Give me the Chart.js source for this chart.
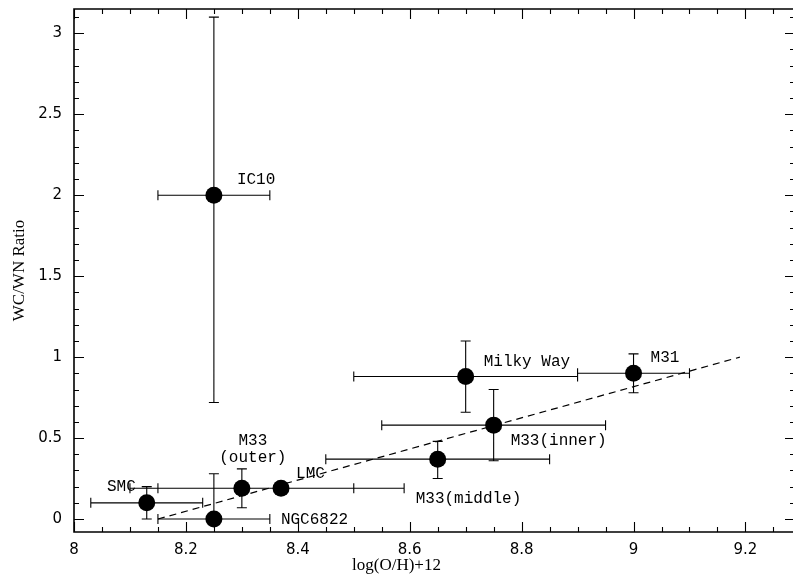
<!DOCTYPE html>
<html>
<head>
<meta charset="utf-8">
<script src="https://cdn.jsdelivr.net/npm/chart.js@4/dist/chart.umd.min.js"></script>
<style>
  html, body { margin: 0; padding: 0; background: #fff; }
</style>
</head>
<body>
<canvas id="wr-chart" width="793" height="575"></canvas>
<script>
// galaxy data
const names = ['IC10', 'Milky Way', 'M31', 'M33(inner)', 'M33(middle)', 'LMC', 'M33\n(outer)', 'SMC', 'NGC6822'];
const logOH = [8.25, 8.70, 9.00, 8.75, 8.65, 8.37, 8.30, 8.13, 8.25];
const logOHErr = [0.10, 0.20, 0.10, 0.20, 0.20, 0.22, 0.20, 0.10, 0.10];
const ratio = [2.00, 0.88, 0.90, 0.58, 0.37, 0.19, 0.19, 0.10, 0.00];
const ratioLo = [0.72, 0.66, 0.78, 0.36, 0.25, 0.16, 0.07, 0.00, 0.00];
const ratioHi = [3.10, 1.10, 1.02, 0.80, 0.48, 0.22, 0.31, 0.20, 0.28];

// dashed fit line end points
const fitX = [8.15, 9.19];
const fitY = [0.00, 1.00];

// axis ticks
const xMajor = [8, 8.2, 8.4, 8.6, 8.8, 9, 9.2];
const yMajor = [0, 0.5, 1, 1.5, 2, 2.5, 3];
const xMinorStep = 0.05;
const yMinorStep = 0.1;
const xTitle = 'log(O/H)+12';
const yTitle = 'WC/WN Ratio';

// where each name sits, in pixels from its point
const labelPlace = {
  'IC10':        {dx: 23, dy: -15, align: 'left'},
  'Milky Way':   {dx: 18, dy: -15, align: 'left'},
  'M31':         {dx: 17, dy: -16, align: 'left'},
  'M33(inner)':  {dx: 17, dy: 16, align: 'left'},
  'M33(middle)': {dx: -22, dy: 40, align: 'left'},
  'LMC':         {dx: 15, dy: -15, align: 'left'},
  'M33\n(outer)':{dx: 11, dy: -48, align: 'center'},
  'SMC':         {dx: -11, dy: -16, align: 'right'},
  'NGC6822':     {dx: 67, dy: 1, align: 'left'}
};

const labelFont = '16px "Liberation Mono", monospace';
const tickFont = {family: 'DejaVu Sans', size: 15};
const titleFont = {family: 'Liberation Serif', size: 17};

// error bars
const errorBars = {
  id: 'errorBars',
  beforeDatasetsDraw(chart) {
    const ctx = chart.ctx;
    const xs = chart.scales.x, ys = chart.scales.y;
    const cap = 5;
    ctx.save();
    ctx.strokeStyle = '#000';
    ctx.lineWidth = 1.1;
    ctx.beginPath();
    for (let i = 0; i < logOH.length; i++) {
      const px = xs.getPixelForValue(logOH[i]);
      const py = ys.getPixelForValue(ratio[i]);
      const x1 = xs.getPixelForValue(logOH[i] - logOHErr[i]);
      const x2 = xs.getPixelForValue(logOH[i] + logOHErr[i]);
      ctx.moveTo(x1, py); ctx.lineTo(x2, py);
      ctx.moveTo(x1, py - cap); ctx.lineTo(x1, py + cap);
      ctx.moveTo(x2, py - cap); ctx.lineTo(x2, py + cap);
      const y1 = ys.getPixelForValue(ratioLo[i]);
      const y2 = ys.getPixelForValue(ratioHi[i]);
      ctx.moveTo(px, y1); ctx.lineTo(px, y2);
      if (ratioLo[i] < ratio[i]) { ctx.moveTo(px - cap, y1); ctx.lineTo(px + cap, y1); }
      if (ratioHi[i] > ratio[i]) { ctx.moveTo(px - cap, y2); ctx.lineTo(px + cap, y2); }
    }
    ctx.stroke();
    ctx.restore();
  }
};

// galaxy names
const pointLabels = {
  id: 'pointLabels',
  afterDatasetsDraw(chart) {
    const ctx = chart.ctx;
    const xs = chart.scales.x, ys = chart.scales.y;
    ctx.save();
    ctx.font = labelFont;
    ctx.fillStyle = '#000';
    ctx.textBaseline = 'middle';
    names.forEach((n, i) => {
      const p = labelPlace[n];
      const px = xs.getPixelForValue(logOH[i]) + p.dx;
      const py = ys.getPixelForValue(ratio[i]) + p.dy;
      ctx.textAlign = p.align;
      n.split('\n').forEach((line, k) => ctx.fillText(line, px, py + k * 17));
    });
    ctx.restore();
  }
};

// box with inward ticks, x title centred on the page
const frame = {
  id: 'frame',
  afterDraw(chart) {
    const ctx = chart.ctx;
    const a = chart.chartArea;
    const xs = chart.scales.x, ys = chart.scales.y;
    ctx.save();
    ctx.strokeStyle = '#000';
    ctx.lineWidth = 1.6;
    ctx.beginPath();
    ctx.moveTo(a.right + 2, a.top); ctx.lineTo(a.left, a.top);
    ctx.lineTo(a.left, a.bottom); ctx.lineTo(a.right + 2, a.bottom);
    ctx.stroke();
    ctx.lineWidth = 1.1;
    ctx.beginPath();
    for (let v = xs.min; v <= xs.max + 1e-9; v += xMinorStep) {
      const isMajor = xMajor.some(m => Math.abs(m - v) < 1e-6);
      const len = isMajor ? 10 : 5;
      const px = Math.round(xs.getPixelForValue(v)) + 0.5;
      ctx.moveTo(px, a.bottom); ctx.lineTo(px, a.bottom - len);
      ctx.moveTo(px, a.top); ctx.lineTo(px, a.top + len);
    }
    for (let v = 0; v <= ys.max + 1e-9; v += yMinorStep) {
      const isMajor = yMajor.some(m => Math.abs(m - v) < 1e-6);
      const len = isMajor ? 10 : 5;
      const py = Math.round(ys.getPixelForValue(v)) + 0.5;
      ctx.moveTo(a.left, py); ctx.lineTo(a.left + len, py);
      ctx.moveTo(a.right + 2, py); ctx.lineTo(a.right + 2 - len, py);
    }
    ctx.stroke();
    ctx.font = titleFont.size + 'px "' + titleFont.family + '"';
    ctx.fillStyle = '#000';
    ctx.textAlign = 'center';
    ctx.textBaseline = 'middle';
    ctx.fillText(xTitle, chart.width / 2, chart.height - 9);
    ctx.restore();
  }
};

const ctx = document.getElementById('wr-chart');

let wrChart = new Chart(ctx, {
  type: 'scatter',
  data: {
    datasets: [{
      data: logOH.map((x, i) => ({x: x, y: ratio[i]})),
      backgroundColor: '#000',
      borderWidth: 0,
      pointRadius: 8.5,
      order: 1
    }, {
      type: 'line',
      data: fitX.map((x, i) => ({x: x, y: fitY[i]})),
      borderColor: '#000',
      borderWidth: 1.2,
      borderDash: [7, 5],
      pointRadius: 0,
      fill: false,
      order: 2
    }]
  },
  options: {
    responsive: false,
    animation: false,
    devicePixelRatio: 1,
    layout: {autoPadding: false, padding: {top: 9, right: 0, left: 0, bottom: 0}},
    plugins: {
      legend: {display: false},
      tooltip: {enabled: false}
    },
    scales: {
      x: {
        type: 'linear',
        min: 8,
        max: 9.285,
        afterBuildTicks: s => { s.ticks = xMajor.map(v => ({value: v})); },
        afterFit: s => { s.height = 43; s.paddingLeft = 0; s.paddingRight = 0; },
        grid: {display: false, drawTicks: false},
        border: {display: false},
        ticks: {
          padding: 9,
          color: '#000',
          font: tickFont,
          callback: v => String(+v.toFixed(2))
        },
        title: {display: false}
      },
      y: {
        type: 'linear',
        min: -0.08,
        max: 3.15,
        afterBuildTicks: s => { s.ticks = yMajor.map(v => ({value: v})); },
        afterFit: s => { s.width = 74; s.paddingTop = 0; s.paddingBottom = 0; },
        grid: {display: false, drawTicks: false},
        border: {display: false},
        ticks: {
          padding: 12,
          color: '#000',
          font: tickFont,
          callback: v => String(+v.toFixed(2))
        },
        title: {
          display: true,
          text: yTitle,
          color: '#000',
          font: titleFont,
          padding: {top: 9, bottom: 0}
        }
      }
    }
  },
  plugins: [errorBars, pointLabels, frame]
});
</script>
</body>
</html>
